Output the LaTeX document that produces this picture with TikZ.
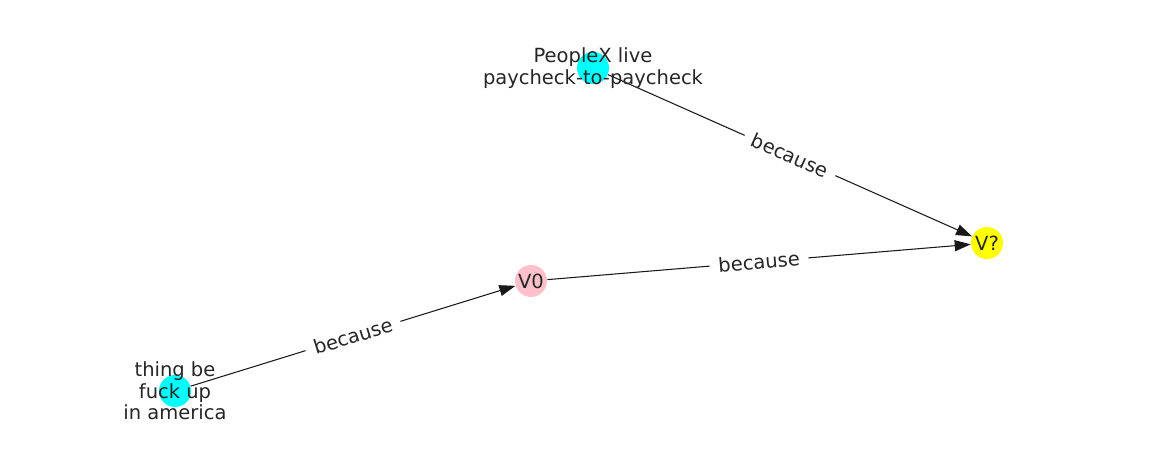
\documentclass[tikz,border=0pt]{standalone}
\usepackage{fontspec}
\setmainfont{DejaVu Sans}
\usetikzlibrary{arrows.meta, positioning}

\definecolor{vcyan}{RGB}{0,255,255}
\definecolor{vyellow}{RGB}{255,255,0}
\definecolor{vpink}{RGB}{255,192,203}

\tikzset{
  vertex/.style={circle, minimum size=0.64cm, inner sep=0pt},
  nodetext/.style={align=center, text=black!85, font=\fontsize{11.1}{12.2}\selectfont},
  edge/.style={-{Triangle[length=0.32cm, width=0.22cm]}, line width=0.6pt, black!90},
  edgelabel/.style={fill=white, sloped, inner xsep=5pt, inner ysep=3pt, text=black!85, font=\fontsize{11.1}{12.2}\selectfont}
}

\begin{document}
\begin{tikzpicture}
      \useasboundingbox (0,0) rectangle (23.24,-9.24);

      % Vertices
      \node[vertex, fill=vcyan] (people) at (11.86,-1.36) {};
      \node[vertex, fill=vyellow] (vq) at (19.74,-4.86) {};
      \node[vertex, fill=vpink] (vzero) at (10.62,-5.62) {};
      \node[vertex, fill=vcyan] (thing) at (3.50,-7.82) {};

      % Edges
      \draw[edge] (thing) -- node[edgelabel] {because} (vzero);
      \draw[edge] (vzero) -- node[edgelabel] {because} (vq);
      \draw[edge] (people) -- node[edgelabel] {because} (vq);

      % Texts
      \node[nodetext] (peopletext) at (people) {PeopleX live\\paycheck-to-paycheck};
      \node[nodetext] (vqtext) at (vq) {V?};
      \node[nodetext] (vzerotext) at (vzero) {V0};
      \node[nodetext] (thingtext) at (thing) {thing be\\fuck up\\in america};
    \end{tikzpicture}
\end{document}
